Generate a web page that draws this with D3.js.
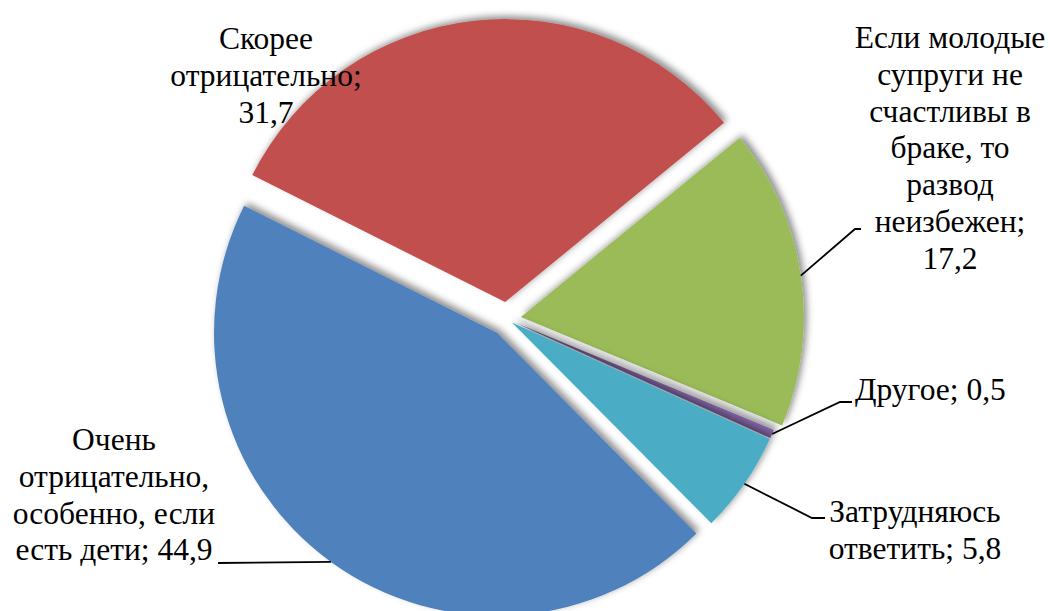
<!DOCTYPE html>
<html>
<head>
<meta charset="utf-8">
<script src="https://cdn.jsdelivr.net/npm/d3@7"></script>
<style>
  body { margin: 0; background: #fff; }
  svg text { font-family: "Liberation Serif", "Times New Roman", serif; fill: #000; }
</style>
</head>
<body>
<div id="chart"></div>
<script>
// data, in the order Excel draws it (clockwise)
var categories = [
  "Очень отрицательно, особенно, если есть дети",
  "Скорее отрицательно",
  "Если молодые супруги не счастливы в браке, то развод неизбежен",
  "Другое",
  "Затрудняюсь ответить"
];
var values = [44.9, 31.7, 17.2, 0.5, 5.8];
var valueLabels = ["44,9", "31,7", "17,2", "0,5", "5,8"];
// label text broken into lines as it appears on the chart
var labelLines = [
  ["Очень", "отрицательно,", "особенно, если", "есть дети; 44,9"],
  ["Скорее", "отрицательно;", "31,7"],
  ["Если молодые", "супруги не", "счастливы в", "браке, то", "развод", "неизбежен;", "17,2"],
  ["Другое; 0,5"],
  ["Затрудняюсь", "ответить; 5,8"]
];

var colors = ["#4F81BD", "#C0504D", "#9BBB59", "#8064A2", "#4BACC6"];

var width = 1050;
var height = 611;

// pie geometry
var cx = 507;
var cy = 319;
var radius = 283;
var startDeg = 135.2;
var explode = [17, 17, 14, 6, 6];

// label layout: anchor x, first baseline, line step, text-anchor, leader bend points
var fontSize = 31.5;
var lineStep = 36.8;
var labelLayout = [
  { x: 114, y: 450, anchor: "middle", leader: [[218, 563]] },
  { x: 266, y: 49, anchor: "middle", leader: null },
  { x: 950, y: 48, anchor: "middle", leader: [[855, 229], [861, 229]] },
  { x: 855, y: 400, anchor: "start", leader: [[840, 402], [852, 402]] },
  { x: 915, y: 522, anchor: "middle", leader: [[812, 518], [825, 518]] }
];

var svg = d3.select("#chart")
  .append("svg")
  .attr("width", width)
  .attr("height", height);

// soft shadow under slices, shifted up and right
var defs = svg.append("defs");
var filter = defs.append("filter")
  .attr("id", "shadow")
  .attr("x", "-20%").attr("y", "-20%")
  .attr("width", "140%").attr("height", "140%");
filter.append("feDropShadow")
  .attr("dx", 3)
  .attr("dy", -3)
  .attr("stdDeviation", 3.5)
  .attr("flood-color", "#000")
  .attr("flood-opacity", 0.45);

var pie = d3.pie()
  .sort(null)
  .value(function(d) { return d; })
  .startAngle(startDeg * Math.PI / 180)
  .endAngle(startDeg * Math.PI / 180 + 2 * Math.PI);

var arcs = pie(values);

var arc = d3.arc()
  .innerRadius(0)
  .outerRadius(radius);

function sliceCenter(d, i) {
  var mid = (d.startAngle + d.endAngle) / 2;
  return [cx + explode[i] * Math.sin(mid), cy - explode[i] * Math.cos(mid)];
}

var slices = svg.append("g").attr("class", "slices");

slices.selectAll("path")
  .data(arcs)
  .enter()
  .append("path")
  .attr("d", arc)
  .attr("transform", function(d, i) {
    var c = sliceCenter(d, i);
    return "translate(" + c[0] + "," + c[1] + ")";
  })
  .attr("fill", function(d, i) { return colors[i]; })
  .attr("filter", "url(#shadow)");

// leader lines from the middle of each outer arc to its label
var line = d3.line();
var leaders = svg.append("g").attr("class", "leaders");

arcs.forEach(function(d, i) {
  var lay = labelLayout[i];
  if (!lay.leader) return;
  var c = sliceCenter(d, i);
  var mid = (d.startAngle + d.endAngle) / 2;
  var start = [c[0] + radius * Math.sin(mid), c[1] - radius * Math.cos(mid)];
  leaders.append("path")
    .attr("d", line([start].concat(lay.leader)))
    .attr("fill", "none")
    .attr("stroke", "#000")
    .attr("stroke-width", 1.8);
});

// labels
var labels = svg.append("g").attr("class", "labels");

labelLines.forEach(function(lines, i) {
  var lay = labelLayout[i];
  var t = labels.append("text")
    .attr("font-size", fontSize)
    .attr("text-anchor", lay.anchor);
  lines.forEach(function(s, k) {
    t.append("tspan")
      .attr("x", lay.x)
      .attr("y", lay.y + k * lineStep)
      .text(s);
  });
});
</script>
</body>
</html>
